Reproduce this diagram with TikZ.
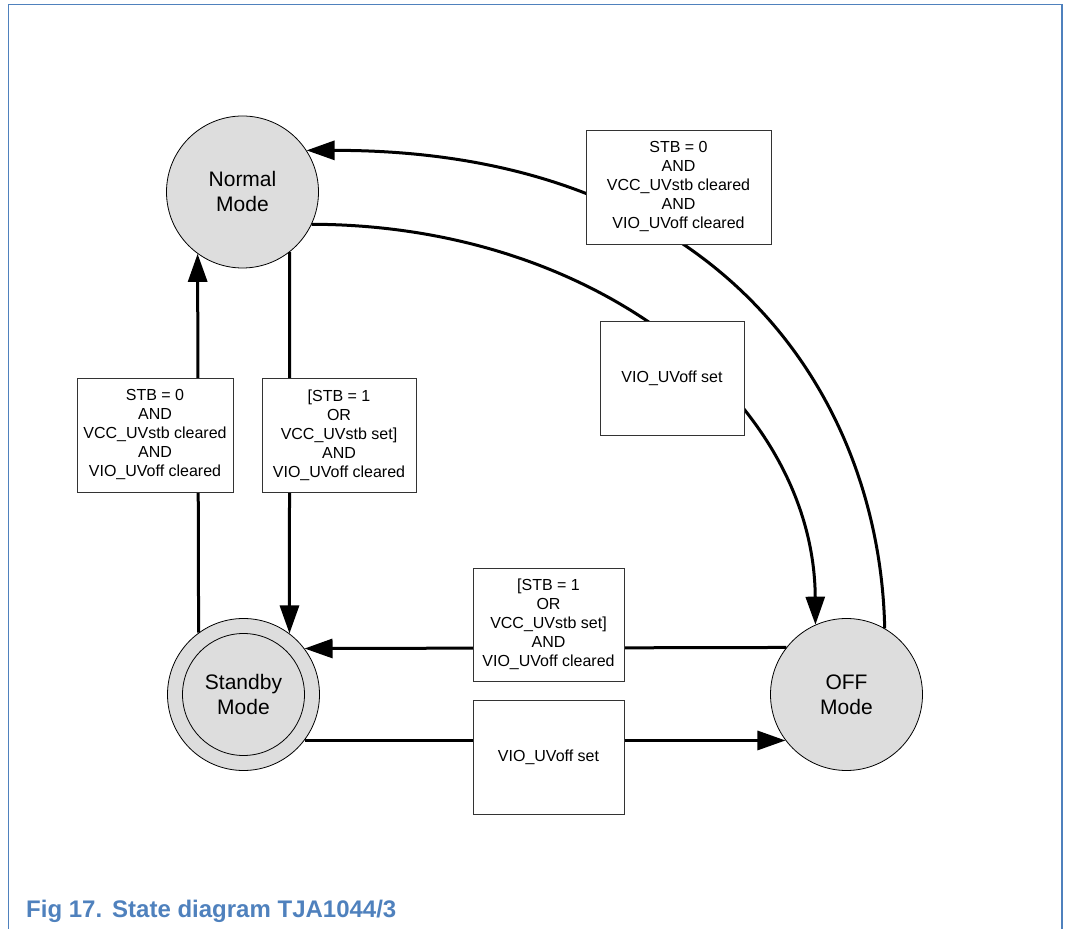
\documentclass[tikz,border=0pt]{standalone}
\usepackage{fontspec}
\setmainfont{Liberation Sans}
\usetikzlibrary{arrows.meta}
\definecolor{frameblue}{RGB}{79,129,189}
\definecolor{statefill}{RGB}{221,221,221}
\begin{document}
\begin{tikzpicture}[x=1pt,y=1pt,
  state/.style={circle,draw=black,line width=0.8pt,fill=statefill,minimum size=152pt,inner sep=0pt,align=center,font=\fontsize{21}{25}\selectfont},
  innerring/.style={circle,draw=black,line width=0.8pt,minimum size=122pt,inner sep=0pt},
  cond/.style={rectangle,draw=black!80,line width=0.8pt,fill=white,inner sep=0pt,align=center,font=\fontsize{16}{19}\selectfont},
  conn/.style={line width=3pt},
  tip/.style={-{Triangle[length=28pt,width=19pt]}}
]
\useasboundingbox (0,0) rectangle (1066,929);
\draw[frameblue,line width=1.5pt] (8.5,0) -- (8.5,924.5) -- (1062,924.5) -- (1062,0);
\node[anchor=base west,text=frameblue,font=\fontsize{24}{28}\selectfont\bfseries,inner sep=0pt] (caption) at (26,11) {Fig 17.\hspace{10pt}State diagram TJA1044/3};

% states
\node[state] (normal) at (242.5,737) {Normal\\Mode};
\node[state] (standby) at (243.5,234.5) {};
\node[innerring] (standbyin) at (standby.center) {};
\node[align=center,font=\fontsize{21}{25}\selectfont,inner sep=0pt] (standbytxt) at (standby.center) {Standby\\Mode};
\node[state] (off) at (846.5,234.5) {OFF\\Mode};

% connectors
\draw[conn,tip] (standby.126.8) -- (normal.234.2);
\draw[conn,tip] (normal.-52.3) -- (standby.53.2);
\draw[conn,tip] (off.142.3) -- (standby.37.7);
\draw[conn,tip] (standby.-37.7) -- (off.217.7);
\draw[conn,tip] (normal.-25) .. controls (600,704) and (814,526) .. (off.114);
\draw[conn,tip] (off.60) .. controls (880,529) and (725,779) .. (normal.33);

% condition boxes
\node[cond,minimum width=185pt,minimum height=114pt] (condA) at (678.5,742) {STB = 0\\AND\\VCC\_UVstb cleared\\AND\\VIO\_UVoff cleared};
\node[cond,minimum width=144pt,minimum height=114pt] (condB) at (672,551) {VIO\_UVoff set};
\node[cond,minimum width=156pt,minimum height=114pt] (condC) at (155,494) {STB = 0\\AND\\VCC\_UVstb cleared\\AND\\VIO\_UVoff cleared};
\node[cond,minimum width=154pt,minimum height=114pt] (condD) at (339,494) {[STB = 1\\OR\\VCC\_UVstb set]\\AND\\VIO\_UVoff cleared};
\node[cond,minimum width=151pt,minimum height=113pt] (condE) at (548.5,304.5) {[STB = 1\\OR\\VCC\_UVstb set]\\AND\\VIO\_UVoff cleared};
\node[cond,minimum width=151pt,minimum height=114pt] (condF) at (548.5,172) {VIO\_UVoff set};
\end{tikzpicture}
\end{document}
